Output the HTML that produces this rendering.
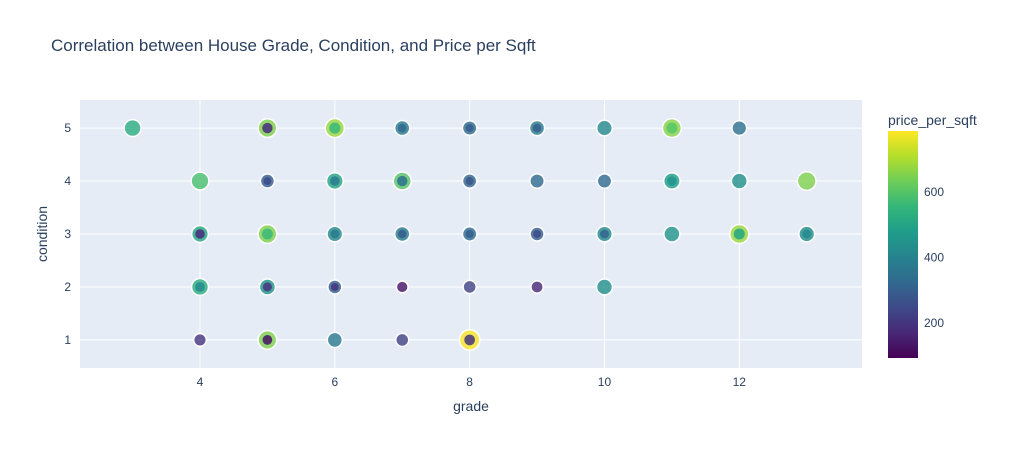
<!DOCTYPE html>
<html><head><meta charset="utf-8"><style>
body{margin:0;background:#fff;font-family:"Liberation Sans",sans-serif;}
</style></head><body>
<svg id="chart" width="1011" height="450" xmlns="http://www.w3.org/2000/svg" font-family="Liberation Sans, sans-serif">
<defs><linearGradient id="vir" x1="0" y1="1" x2="0" y2="0">
<stop offset="0" stop-color="#440154"/><stop offset="0.11" stop-color="#482878"/><stop offset="0.22" stop-color="#3e4989"/><stop offset="0.33" stop-color="#31688e"/><stop offset="0.44" stop-color="#26828e"/><stop offset="0.56" stop-color="#1f9e89"/><stop offset="0.67" stop-color="#35b779"/><stop offset="0.78" stop-color="#6ece58"/><stop offset="0.89" stop-color="#b5de2b"/><stop offset="1" stop-color="#fde725"/></linearGradient></defs>
<text x="51" y="51" font-size="17" fill="#2a3f5f">Correlation between House Grade, Condition, and Price per Sqft</text>
<rect x="80" y="100" width="782" height="268" fill="#e5ecf6"/>
<g id="grid"></g><g id="marks"></g>
<text x="471" y="411" font-size="14" fill="#2a3f5f" text-anchor="middle">grade</text>
<text transform="translate(47,234) rotate(-90)" font-size="14" fill="#2a3f5f" text-anchor="middle">condition</text>
<text x="888" y="125" font-size="14" fill="#2a3f5f">price_per_sqft</text>
<rect x="888" y="131" width="30" height="227" fill="url(#vir)"/>
<g id="cbticks"></g>
</svg>
<script>
const grades=[3,4,4,4,4,5,5,5,5,5,6,6,6,6,6,7,7,7,7,7,8,8,8,8,8,9,9,9,9,10,10,10,10,11,11,11,12,12,12,13,13];
const conditions=[5,4,3,2,1,5,4,3,2,1,5,4,3,2,1,5,4,3,2,1,5,4,3,2,1,5,4,3,2,5,4,3,2,5,4,3,5,4,3,4,3];
const priceMax=[520,580,500,520,200,650,300,650,450,650,680,500,420,300,380,380,600,380,130,230,330,320,330,230,780,380,330,300,170,420,330,420,440,660,480,450,350,440,680,650,430];
const priceMed=[520,580,180,420,200,180,250,560,200,130,560,380,380,200,380,330,350,300,130,230,300,280,300,230,200,300,330,250,170,420,330,320,440,600,450,450,350,440,500,650,420];
const xTicks=[4,6,8,10,12];
const yTicks=[1,2,3,4,5];
const cbTicks=[200,400,600];
const NS="http://www.w3.org/2000/svg";
const X=g=>80+(g-2.22)/(13.82-2.22)*782;
const Y=c=>368-(c-0.47)/(5.53-0.47)*268;
const CB=v=>358-(v-94)/(785-94)*227;
const stops=[[68,1,84],[72,40,120],[62,73,137],[49,104,142],[38,130,142],[31,158,137],[53,183,121],[110,206,88],[181,222,43],[253,231,37]];
function col(v){let t=Math.max(0,Math.min(1,(v-94)/(785-94)))*9;let i=Math.min(8,Math.floor(t)),f=t-i;const a=stops[i],b=stops[i+1];return `rgb(${a.map((x,k)=>Math.round(x+(b[k]-x)*f)).join(',')})`;}
function el(t,a,p){const e=document.createElementNS(NS,t);for(const k in a)e.setAttribute(k,a[k]);p.appendChild(e);return e;}
const grid=document.getElementById('grid'),marks=document.getElementById('marks'),cb=document.getElementById('cbticks'),svg=document.getElementById('chart');
xTicks.forEach(t=>{const l=el('line',{x1:X(t),x2:X(t),y1:100,y2:368,stroke:'#fff','stroke-width':1},grid);


const tx=el('text',{x:X(t),y:386,'font-size':12,fill:'#2a3f5f','text-anchor':'middle'},svg);tx.textContent=t;

});
yTicks.forEach(t=>{const l=el('line',{x1:80,x2:862,y1:Y(t),y2:Y(t),stroke:'#fff','stroke-width':1},grid);


const tx=el('text',{x:71,y:Y(t)+4,'font-size':12,fill:'#2a3f5f','text-anchor':'end'},svg);tx.textContent=t;

});
cbTicks.forEach(t=>{const tx=el('text',{x:924,y:CB(t)+4,'font-size':12,fill:'#2a3f5f'},cb);tx.textContent=t;

});
const R=v=>4+v/150;
grades.forEach((g,i)=>{const cx=X(g),cy=Y(conditions[i]);const r=R(priceMax[i]);
const o=el('circle',{cx,cy,r:r+1,fill:col(priceMax[i]),stroke:'#fff','stroke-width':1.5,'fill-opacity':0.8},marks);


if(priceMed[i]!==priceMax[i]){const c=el('circle',{cx,cy,r:Math.min(r*0.65,R(priceMed[i])),fill:col(priceMed[i]),'fill-opacity':0.85},marks);

}});
</script>
</body></html>
